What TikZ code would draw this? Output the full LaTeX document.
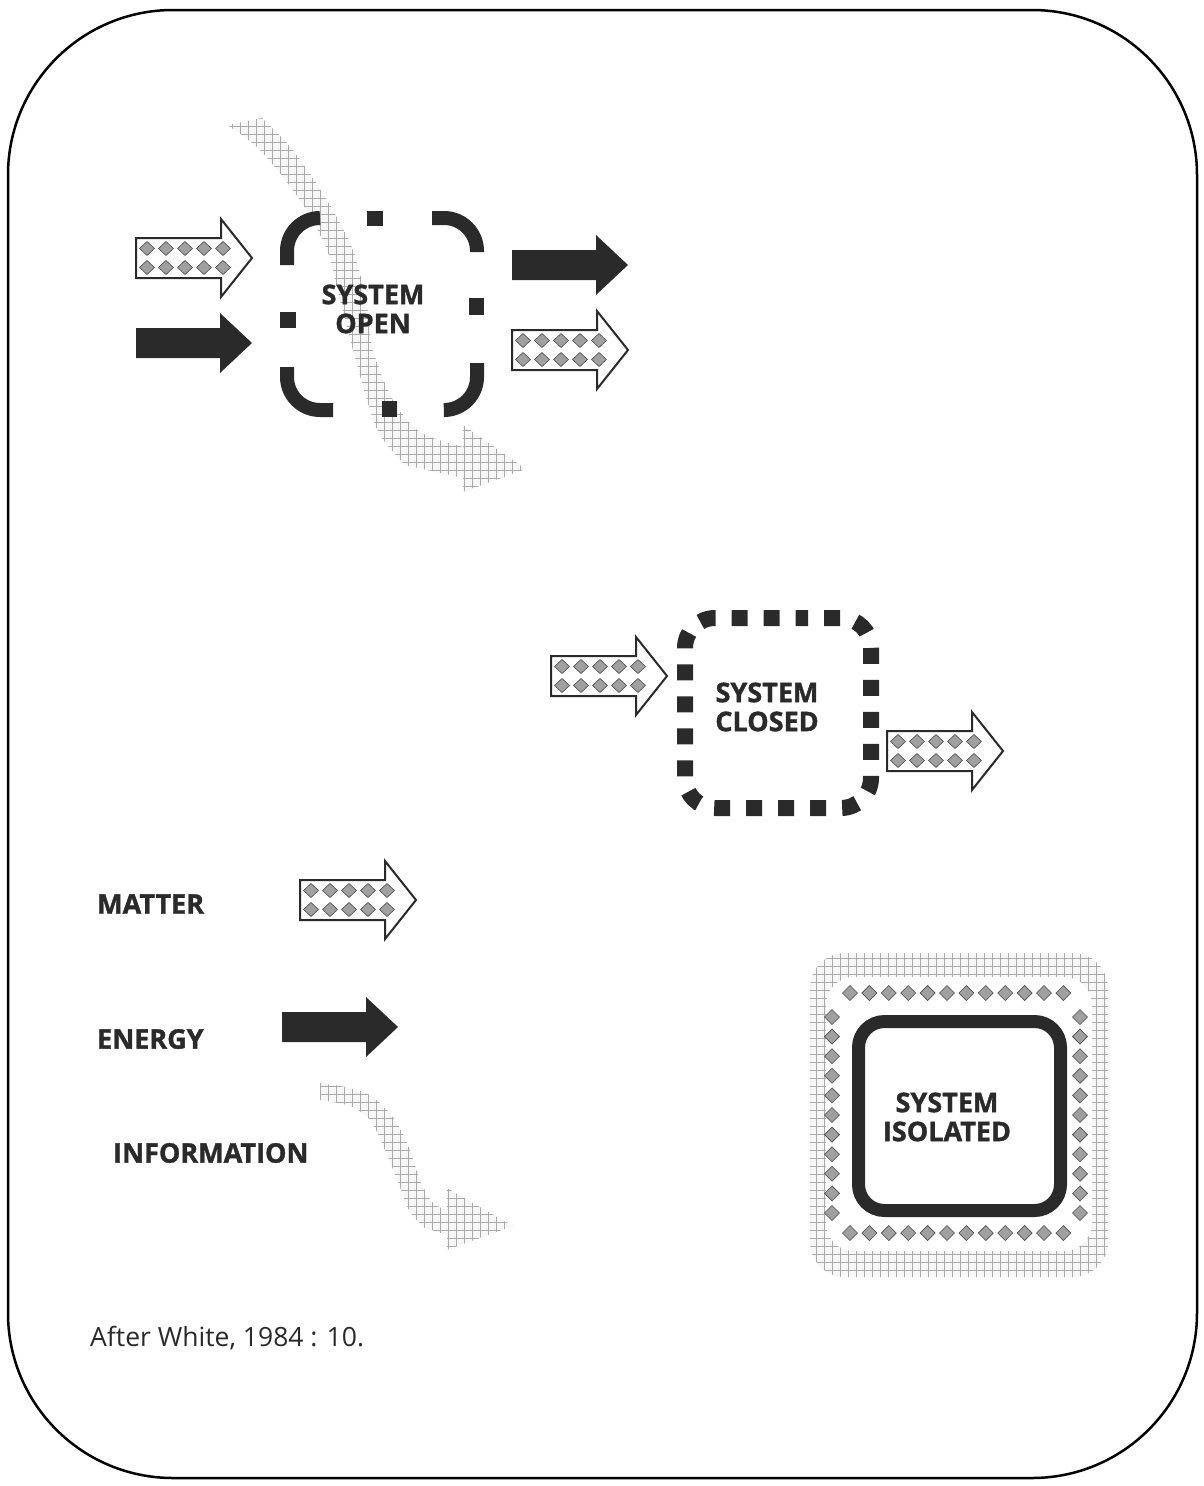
\documentclass[tikz,border=0pt]{standalone}
\usepackage{fontspec}
\setmainfont{Open Sans}[BoldFeatures={FakeBold=1.3}]
\usetikzlibrary{patterns.meta}
\definecolor{ink}{HTML}{2A2A2A}
\definecolor{diamfill}{HTML}{A0A0A0}
\definecolor{hatchc}{HTML}{AAAAAA}
\tikzset{
  diam/.style={fill=diamfill, draw=gray!60!black, line width=0.6},
  lbl/.style={font=\fontsize{27}{29}\selectfont\bfseries, text=ink, inner sep=0, align=center},
  legend/.style={font=\fontsize{27}{29}\selectfont\bfseries, text=ink, inner sep=0, anchor=west},
  infoband/.style={fill=gray!6, postaction={pattern={Hatch[angle=0,distance=8pt,line width=0.6pt]}, pattern color=hatchc}},
  seg/.style={draw=ink, line width=14},
  matterarrow/.pic={
    \draw[line width=2, fill=white, draw=ink] (0,-20) -- (85,-20) -- (85,-39) -- (116,0) -- (85,39) -- (85,20) -- (0,20) -- cycle;
    \foreach \i in {0,...,4}{\foreach \j in {-1,1}{
      \path[diam] ({11+19*\i},{9.5*\j}) +(-7.5,0) -- +(0,-7) -- +(7.5,0) -- +(0,7) -- cycle;}}
  },
  energyarrow/.pic={
    \fill[ink] (0,-15) -- (84,-15) -- (84,-30) -- (116,0) -- (84,30) -- (84,15) -- (0,15) -- cycle;
  },
}
\newcommand{\mydiam}[2]{\path[diam] (#1,#2) +(-7.5,0) -- +(0,-7.5) -- +(7.5,0) -- +(0,7.5) -- cycle;}
\begin{document}
\begin{tikzpicture}[x=1pt,y=-1pt]
\useasboundingbox (0,0) rectangle (1203,1486);
% outer frame
\draw[line width=2.5, rounded corners=165] (8,10) rectangle (1197,1478);

% ---------- OPEN SYSTEM ----------
\path[infoband] plot[smooth] coordinates {(262,118) (293,150) (327,200) (353,250) (366,300) (373,350) (393,400) (420,432) (463,447)}
  -- (463,425) -- (526,469) -- (463,492) -- (463,478)
  -- plot[smooth] coordinates {(405,465) (380,435) (367,400) (353,350) (340,300) (327,250) (300,200) (260,150) (227,125)} -- cycle;

\draw[seg] (287,265) -- (287,251) arc[start angle=180,end angle=270,radius=33] -- (320,218);
\fill[ink] (367,211) rectangle (383,226);
\draw[seg] (432,218) -- (444,218) arc[start angle=270,end angle=360,radius=33] -- (477,252);
\fill[ink] (469,298) rectangle (484,315);
\fill[ink] (280,312) rectangle (296,328);
\draw[seg] (287,367) -- (287,377) arc[start angle=180,end angle=90,radius=33] -- (333,410);
\fill[ink] (382,401) rectangle (397,417);
\draw[seg] (445,410) -- (444,410) arc[start angle=90,end angle=0,radius=33] -- (477,363);
\node[lbl] (open) at (373,309) {SYSTEM\\OPEN};

\pic (omin) at (136,258) {matterarrow};
\pic (oein) at (136,343) {energyarrow};
\pic (oeout) at (512,265) {energyarrow};
\pic (omout) at (512,350) {matterarrow};

% ---------- CLOSED SYSTEM ----------
\draw[ink, line width=16, dash pattern=on 16 off 16, dash phase=16, rounded corners=30]
  (778,618) -- (871,618) -- (871,808) -- (685,808) -- (685,618) -- cycle;
\node[lbl] (closed) at (767,707) {SYSTEM\\CLOSED};
\pic (cmin) at (551,676) {matterarrow};
\pic (cmout) at (887,751) {matterarrow};

% ---------- LEGEND ----------
\node[legend] (lm) at (97,904) {MATTER};
\node[legend] (le) at (97,1039) {ENERGY};
\node[legend] (li) at (113,1153) {INFORMATION};
\pic (lma) at (300,900) {matterarrow};
\pic (lea) at (282,1027) {energyarrow};
\path[infoband] plot[smooth] coordinates {(320,1083) (350,1088) (373,1097) (395,1120) (410,1150) (420,1180) (433,1203) (447,1210)}
  -- (447,1188) -- (513,1226) -- (447,1250) -- (447,1235)
  -- plot[smooth] coordinates {(425,1228) (410,1212) (398,1182) (385,1150) (370,1120) (350,1106) (320,1100)} -- cycle;

% ---------- ISOLATED SYSTEM ----------
\path[infoband, rounded corners=35] (810,953) rectangle (1108,1277);
\fill[white, rounded corners=28] (826,977) rectangle (1092,1251);
\foreach \i in {0,...,11}{
  \mydiam{850+19.4*\i}{993}
  \mydiam{850+19.4*\i}{1233}}
\foreach \j in {0,...,10}{
  \mydiam{832}{1017+19.6*\j}
  \mydiam{1080}{1017+19.6*\j}}
\draw[ink, line width=13, fill=white, rounded corners=26] (858.5,1021.5) rectangle (1060.5,1210.5);
\node[lbl] (isolated) at (947,1117) {SYSTEM\\ISOLATED};

% source
\node[inner sep=0, anchor=west, text=ink, font=\fontsize{26.5}{30}\selectfont] (src) at (90,1338) {After White, 1984 : 10.};
\end{tikzpicture}
\end{document}
